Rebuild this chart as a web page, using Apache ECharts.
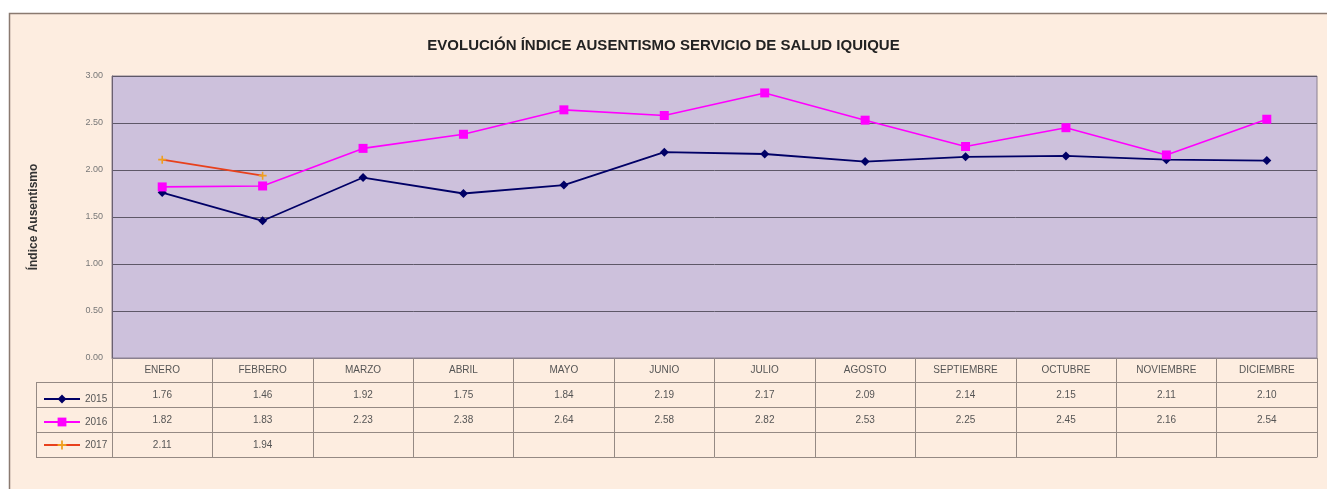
<!DOCTYPE html>
<html>
<head>
<meta charset="utf-8">
<script src="https://cdn.jsdelivr.net/npm/echarts@6/dist/echarts.min.js"></script>
<style>
  html, body { margin: 0; padding: 0; background: #fff; }
  #chart { width: 1327px; height: 489px; }
</style>
</head>
<body>
<div id="chart"></div>
<script>
const meses = ["ENERO", "FEBRERO", "MARZO", "ABRIL", "MAYO", "JUNIO", "JULIO", "AGOSTO", "SEPTIEMBRE", "OCTUBRE", "NOVIEMBRE", "DICIEMBRE"];
const anios = ["2015", "2016", "2017"];
const datos2015 = [1.76, 1.46, 1.92, 1.75, 1.84, 2.19, 2.17, 2.09, 2.14, 2.15, 2.11, 2.10];
const datos2016 = [1.82, 1.83, 2.23, 2.38, 2.64, 2.58, 2.82, 2.53, 2.25, 2.45, 2.16, 2.54];
const datos2017 = [2.11, 1.94];
const yTicks = [0, 0.5, 1, 1.5, 2, 2.5, 3];

const chart = echarts.init(document.getElementById("chart"));

const lineaTabla = "#958a84";
const textoTabla = "#555";
const fuente = "Liberation Sans";

// filas de la tabla de datos, hechas con ejes extra
const filaEje = (valores, offset) => ({
  type: "category",
  position: "bottom",
  offset: offset,
  gridIndex: 0,
  data: meses.map((m, i) => (valores[i] === undefined ? "" : valores[i].toFixed(2))),
  axisLine: { show: true, lineStyle: { color: lineaTabla, width: 1 } },
  axisTick: { show: true, length: 25, lineStyle: { color: lineaTabla } },
  axisLabel: { color: textoTabla, fontSize: 10, fontFamily: fuente, margin: 8 },
  splitLine: { show: false },
});

const filas = [datos2015, datos2016, datos2017];

const option = {
  backgroundColor: "#fff",
  color: ["#000066", "#ff00ff", "#e8401c"],
  title: {
    text: "EVOLUCIÓN ÍNDICE AUSENTISMO SERVICIO DE SALUD IQUIQUE",
    left: "center",
    top: 33,
    textStyle: { fontSize: 15, fontWeight: "bold", color: "#222", fontFamily: fuente },
  },
  legend: {
    orient: "vertical",
    left: 38,
    top: 389,
    itemGap: 13,
    itemWidth: 36,
    itemHeight: 11,
    data: anios,
    textStyle: { color: textoTabla, fontSize: 10, fontFamily: fuente },
  },
  graphic: [
    {
      type: "rect",
      shape: { x: 9.5, y: 13.5, width: 1400, height: 600 },
      style: { fill: "#fdede0", stroke: "#8a7a70", lineWidth: 1.5 },
      z: -10,
    },
    { type: "line", shape: { x1: 36, y1: 382.5, x2: 112, y2: 382.5 }, style: { stroke: lineaTabla } },
    { type: "line", shape: { x1: 36, y1: 407.5, x2: 112, y2: 407.5 }, style: { stroke: lineaTabla } },
    { type: "line", shape: { x1: 36, y1: 432.5, x2: 112, y2: 432.5 }, style: { stroke: lineaTabla } },
    { type: "line", shape: { x1: 36, y1: 457.5, x2: 112, y2: 457.5 }, style: { stroke: lineaTabla } },
    { type: "line", shape: { x1: 36.5, y1: 382, x2: 36.5, y2: 457 }, style: { stroke: lineaTabla } },
  ],
  grid: {
    left: 112,
    top: 76,
    width: 1205,
    height: 282,
    show: true,
    backgroundColor: "#cdc1dc",
    borderColor: "#8a8090",
    borderWidth: 1,
  },
  xAxis: [
    {
      type: "category",
      position: "bottom",
      data: meses,
      axisLine: { show: true, lineStyle: { color: "#8a8090", width: 1 } },
      axisTick: { show: true, length: 24, lineStyle: { color: lineaTabla } },
      axisLabel: { color: textoTabla, fontSize: 10, fontFamily: fuente, margin: 7 },
    },
    filaEje(filas[0], 24),
    filaEje(filas[1], 49),
    filaEje(filas[2], 74),
    {
      type: "category",
      position: "bottom",
      offset: 99,
      data: meses,
      axisLine: { show: true, lineStyle: { color: lineaTabla, width: 1 } },
      axisTick: { show: false },
      axisLabel: { show: false },
    },
  ],
  yAxis: {
    type: "value",
    min: yTicks[0],
    max: yTicks[yTicks.length - 1],
    interval: 0.5,
    name: "Índice Ausentismo",
    nameLocation: "middle",
    nameGap: 72,
    nameRotate: 90,
    nameTextStyle: { color: "#333", fontSize: 12, fontWeight: "bold", fontFamily: fuente },
    axisLine: { show: true, lineStyle: { color: "#6a6070" } },
    axisTick: { show: false },
    axisLabel: {
      color: "#777",
      fontSize: 9,
      fontFamily: fuente,
      margin: 9,
      formatter: (v) => v.toFixed(2),
    },
    splitLine: { show: true, lineStyle: { color: "#5e5868", width: 1 } },
  },
  series: [
    {
      name: anios[0],
      type: "line",
      data: datos2015,
      symbol: "diamond",
      symbolSize: 9,
      lineStyle: { width: 1.8, color: "#000066" },
      itemStyle: { color: "#000066" },
    },
    {
      name: anios[1],
      type: "line",
      data: datos2016,
      symbol: "rect",
      symbolSize: 9,
      lineStyle: { width: 1.6, color: "#ff00ff" },
      itemStyle: { color: "#ff00ff" },
    },
    {
      name: anios[2],
      type: "line",
      data: datos2017,
      symbol: "path://M4,0H6V4H10V6H6V10H4V6H0V4H4Z",
      symbolSize: 8,
      lineStyle: { width: 1.8, color: "#e8401c" },
      itemStyle: { color: "#f0a020" },
    },
  ],
};

option && chart.setOption(option);
</script>
</body>
</html>
